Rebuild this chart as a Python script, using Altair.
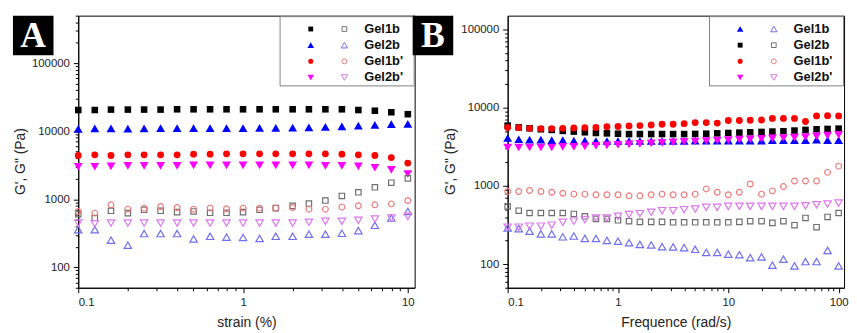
import altair as alt
import pandas as pd

samples = ["Gel1b", "Gel2b", "Gel1b'", "Gel2b'"]

# ---------------- Panel A : strain sweep ----------------
strain = [0.1, 0.126, 0.158, 0.2, 0.251, 0.316, 0.398, 0.501, 0.631, 0.794, 1.0,
          1.26, 1.58, 2.0, 2.51, 3.16, 3.98, 5.01, 6.31, 7.94, 10.0]
a_gel1b_gp = [20500, 20500, 20800, 20800, 20800, 20800, 21000, 21000, 21000, 21000, 21000,
              21000, 21000, 21000, 21000, 21000, 21000, 20500, 20000, 19000, 17800]
a_gel2b_gp = [10800, 11000, 11000, 10900, 11000, 11100, 11100, 11100, 11100, 11100, 11100,
              11200, 11200, 11300, 11400, 11600, 11800, 12100, 12400, 12700, 12800]
a_gel1bp_gp = [4400, 4500, 4400, 4500, 4500, 4500, 4500, 4600, 4600, 4650, 4650,
               4650, 4650, 4650, 4650, 4650, 4600, 4500, 4400, 4100, 3400]
a_gel2bp_gp = [3000, 3000, 3050, 3100, 3100, 3100, 3100, 3150, 3150, 3150, 3150,
               3150, 3150, 3150, 3150, 3100, 3100, 3050, 2900, 2700, 2350]
a_gel1b_gpp = [605, 529, 676, 625, 700, 676, 647, 661, 632, 632, 647,
               700, 740, 800, 865, 957, 1118, 1265, 1497, 1750, 2023]
a_gel2b_gpp = [357, 357, 250, 211, 313, 313, 313, 261, 285, 277, 274,
               265, 285, 285, 306, 306, 316, 346, 414, 529, 661]
a_gel1bp_gpp = [661, 625, 827, 715, 740, 782, 756, 715, 740, 723, 740,
                740, 740, 756, 715, 715, 765, 800, 827, 855, 957]
a_gel2bp_gpp = [447, 437, 447, 447, 447, 447, 447, 447, 447, 447, 447,
                447, 447, 447, 458, 473, 473, 489, 511, 529, 559]

# ---------------- Panel B : frequency sweep ----------------
freq = [0.1, 0.126, 0.158, 0.2, 0.251, 0.316, 0.398, 0.501, 0.631, 0.794, 1.0,
        1.26, 1.58, 2.0, 2.51, 3.16, 3.98, 5.01, 6.31, 7.94, 10.0,
        12.6, 15.8, 20.0, 25.1, 31.6, 39.8, 50.1, 63.1, 79.4, 100.0]
b_gel1b_gp = [4100, 3950, 3900, 3900, 3850, 3850, 3800, 3800, 3750, 3750, 3750,
              3750, 3750, 3750, 3750, 3750, 3750, 3800, 3800, 3800, 3800,
              3800, 3800, 3800, 3850, 3850, 3850, 3850, 3900, 3850, 3850]
b_gel2b_gp = [5900, 5600, 5450, 5300, 5200, 5050, 4950, 4850, 4750, 4700, 4650,
              4600, 4600, 4600, 4600, 4600, 4600, 4620, 4650, 4700, 4750,
              4800, 4850, 4900, 4950, 5000, 5100, 5200, 5300, 5350, 5400]
b_gel1bp_gp = [5580, 5550, 5450, 5400, 5400, 5450, 5500, 5550, 5600, 5700, 5750,
               5850, 5900, 6000, 6150, 6150, 6250, 6450, 6450, 6350, 6850,
               6850, 6900, 6950, 7300, 7300, 7300, 6650, 7850, 7900, 7850]
b_gel2bp_gp = [3100, 3100, 3100, 3100, 3100, 3150, 3150, 3200, 3250, 3300, 3350,
               3400, 3450, 3500, 3550, 3600, 3650, 3700, 3750, 3800, 3850,
               3900, 3950, 4000, 4050, 4100, 4150, 4200, 4300, 4400, 4500]
b_gel1b_gpp = [291, 285, 264, 244, 244, 224, 229, 213, 213, 201, 197,
               188, 179, 176, 167, 166, 163, 155, 141, 141, 134,
               132, 121, 124, 97, 116, 95, 108, 108, 150, 95]
b_gel2b_gpp = [548, 482, 451, 451, 451, 451, 438, 409, 379, 379, 364,
               354, 347, 347, 347, 343, 343, 343, 343, 343, 343,
               347, 354, 354, 337, 354, 315, 390, 297, 401, 451]
b_gel1bp_gpp = [848, 848, 873, 848, 831, 808, 785, 785, 770, 770, 770,
                747, 747, 770, 785, 770, 770, 785, 916, 831, 770,
                831, 1060, 785, 865, 981, 1157, 1157, 1157, 1490, 1791]
b_gel2bp_gpp = [297, 297, 306, 306, 315, 343, 354, 371, 390, 390, 409,
                430, 442, 460, 482, 482, 497, 507, 532, 532, 548,
                548, 548, 548, 548, 548, 548, 558, 575, 586, 603]

# tick labels
a_x_major = [0.1, 1, 10]
a_x_minor = [0.2, 0.3, 0.4, 0.5, 0.6, 0.7, 0.8, 0.9, 2, 3, 4, 5, 6, 7, 8, 9]
b_x_major = [0.1, 1, 10, 100]
b_x_minor = a_x_minor + [20, 30, 40, 50, 60, 70, 80, 90]
a_y_major = [100, 1000, 10000, 100000]
a_y_minor = [50, 60, 70, 80, 90, 200, 300, 400, 500, 600, 700, 800, 900,
             2000, 3000, 4000, 5000, 6000, 7000, 8000, 9000,
             20000, 30000, 40000, 50000, 60000, 70000, 80000, 90000,
             200000, 300000, 400000, 500000]
b_y_minor = [v for v in a_y_minor if v <= 150000]

FONT = "Liberation Sans"
W, H = 340, 275
FILLED_SIZE = {"square": 44, "circle": 48, "triangle-up": 80, "triangle-down": 80}
OPEN_SIZE = {"square": 30, "circle": 34, "triangle-up": 56, "triangle-down": 56}


def long_frame(xs, series):
    rows = []
    for name, gp, gpp in series:
        for x, v in zip(xs, gp):
            rows.append({"x": x, "y": v, "key": name + " G'", "mod": "G'"})
        for x, v in zip(xs, gpp):
            rows.append({"x": x, "y": v, "key": name + " G''", "mod": "G''"})
    return pd.DataFrame(rows)


def axis_spec(title, majors, minors, fmt_list, is_x):
    test = "indexof(" + fmt_list + ", datum.value) >= 0"
    kw = dict(
        title=title,
        values=majors + minors,
        format="~g",
        labelExpr=test + " ? datum.label : ''",
        tickSize={"condition": {"test": test, "value": 5}, "value": 3},
        labelPadding=4,
        grid=False,
        labelFontSize=11.5,
        titleFontSize=14,
    )
    if is_x:
        kw.update(titleY=35, titleBaseline="middle")
    else:
        kw.update(titleX=-58, titleY=147, titleBaseline="middle", titleAngle=-90, titleAlign="center")
    return alt.Axis(**kw)


def panel(letter, xs, series, shapes, fill_cols, open_cols, xdom, ydom, xaxis, yaxis, box_x):
    df = long_frame(xs, series)
    keys, shp, cols, sizes, lsizes = [], [], [], [], []
    for (name, _, _), s, fc, oc in zip(series, shapes, fill_cols, open_cols):
        keys += [name + " G'", name + " G''"]
        shp += [s, s]
        cols += [fc, oc]
        sizes += [FILLED_SIZE[s], OPEN_SIZE[s]]
        lsizes += [FILLED_SIZE[s] * 0.55, OPEN_SIZE[s] * 0.75]
    color = alt.Color("key:N", scale=alt.Scale(domain=keys, range=cols), legend=None)
    shape = alt.Shape("key:N", scale=alt.Scale(domain=keys, range=shp), legend=None)
    size = alt.Size("key:N", scale=alt.Scale(type="ordinal", domain=keys, range=sizes), legend=None)
    lsize = alt.Size("key:N", scale=alt.Scale(type="ordinal", domain=keys, range=lsizes), legend=None)
    xenc = alt.X("x:Q", scale=alt.Scale(type="log", domain=xdom), axis=xaxis)
    yenc = alt.Y("y:Q", scale=alt.Scale(type="log", domain=ydom), axis=yaxis)

    base = alt.Chart(df).encode(x=xenc, y=yenc, color=color, shape=shape, size=size)
    filled = base.transform_filter(alt.datum.mod == "G'").mark_point(filled=True, opacity=1)
    opened = base.transform_filter(alt.datum.mod == "G''").mark_point(filled=False, strokeWidth=1.2, opacity=1)
    main = alt.layer(filled, opened)

    one = pd.DataFrame({"k": [0]})
    leg_box = alt.Chart(one).mark_rect(fill="white", stroke="#808080", strokeWidth=1).encode(
        x=alt.value(204), x2=alt.value(339.5), y=alt.value(1), y2=alt.value(71))

    leg_df = pd.DataFrame({
        "key": [k for k in keys],
        "mod": ["G'", "G''"] * len(series),
        "label": [name for (name, _, _) in series for _ in (0, 1)],
        "row": [i for i in range(len(series)) for _ in (0, 1)],
    })
    ly = alt.Y("row:Q", scale=alt.Scale(domain=[0, 3], range=[13.5, 62.5]), axis=None)
    leg_base = alt.Chart(leg_df).encode(y=ly)
    leg_f = leg_base.transform_filter(alt.datum.mod == "G'").mark_point(filled=True, opacity=1).encode(
        x=alt.value(235), color=color, shape=shape, size=lsize)
    leg_o = leg_base.transform_filter(alt.datum.mod == "G''").mark_point(filled=False, strokeWidth=1, opacity=1).encode(
        x=alt.value(269), color=color, shape=shape, size=lsize)
    leg_t = leg_base.transform_filter(alt.datum.mod == "G'").mark_text(
        align="left", baseline="middle", font=FONT, fontSize=13, fontWeight="bold", color="#111").encode(
        x=alt.value(289), text="label:N")

    lab_box = alt.Chart(one).mark_rect(fill="black").encode(
        x=alt.value(box_x), x2=alt.value(box_x + 41), y=alt.value(0), y2=alt.value(40))
    lab_txt = alt.Chart(pd.DataFrame({"t": [letter]})).mark_text(
        font="Liberation Serif", fontSize=36, fontWeight="bold", color="white",
        align="center", baseline="middle").encode(
        x=alt.value(box_x + 20.5), y=alt.value(21), text="t:N")

    return alt.layer(main, leg_box, leg_f, leg_o, leg_t, lab_box, lab_txt).resolve_scale(
        y="independent", size="independent").properties(width=W, height=H)


series_a = [("Gel1b", a_gel1b_gp, a_gel1b_gpp), ("Gel2b", a_gel2b_gp, a_gel2b_gpp),
            ("Gel1b'", a_gel1bp_gp, a_gel1bp_gpp), ("Gel2b'", a_gel2bp_gp, a_gel2bp_gpp)]
series_b = [("Gel1b", b_gel1b_gp, b_gel1b_gpp), ("Gel2b", b_gel2b_gp, b_gel2b_gpp),
            ("Gel1b'", b_gel1bp_gp, b_gel1bp_gpp), ("Gel2b'", b_gel2bp_gp, b_gel2bp_gpp)]

fill_a = ["#000000", "#0000ff", "#ff0000", "#ff00ff"]
open_a = ["#6e6e6e", "#6f6ff0", "#f07a7a", "#dd77ee"]
fill_b = ["#0000ff", "#000000", "#ff0000", "#ff00ff"]
open_b = ["#6f6ff0", "#6e6e6e", "#f07a7a", "#dd77ee"]

chart_a = panel("A", strain, series_a,
                ["square", "triangle-up", "circle", "triangle-down"], fill_a, open_a,
                [0.1, 11], [50, 500000],
                axis_spec("strain (%)", a_x_major, a_x_minor, "[0.1,1,10]", True),
                axis_spec("G', G\" (Pa)", a_y_major, a_y_minor, "[100,1000,10000,100000]", False),
                -66)
chart_b = panel("B", freq, series_b,
                ["triangle-up", "square", "circle", "triangle-down"], fill_b, open_b,
                [0.1, 112], [50, 150000],
                axis_spec("Frequence (rad/s)", b_x_major, b_x_minor, "[0.1,1,10,100]", True),
                axis_spec("G', G\" (Pa)", a_y_major, b_y_minor, "[100,1000,10000,100000]", False),
                -96)

chart = alt.hconcat(chart_a, chart_b, spacing=94, bounds="flush").resolve_scale(
    color="independent", shape="independent", size="independent", x="independent", y="independent"
).properties(
    padding={"left": 4, "top": 5, "right": 0, "bottom": 0}
).configure_view(
    stroke="black", strokeWidth=1
).configure_axis(
    domainColor="black", tickColor="black", labelColor="#222", titleColor="#222",
    labelFont=FONT, titleFont=FONT, titleFontWeight="normal"
)

chart.save("out.html", embed_options={"renderer": "svg", "actions": False})
